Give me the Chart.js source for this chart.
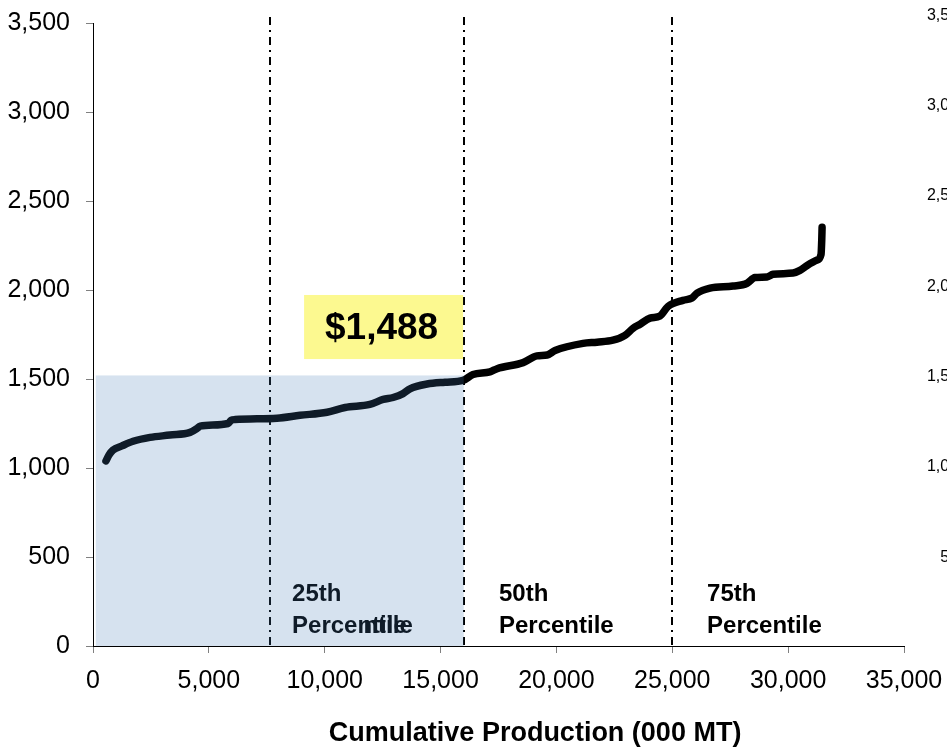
<!DOCTYPE html>
<html lang="en">
<head>
<meta charset="UTF-8"/>
<title>Cost curve</title>
<script src="https://cdn.jsdelivr.net/npm/chart.js@4.4.0/dist/chart.umd.min.js"></script>
<style>
  html, body { margin: 0; padding: 0; overflow: hidden; background: #fff; }
  #wrap { width: 967px; height: 747px; }
</style>
</head>
<body>
<div id="wrap"><canvas id="chart"></canvas></div>
<script>
// cumulative production (000 MT) and cost
const prodX = [560, 690, 860, 1250, 1730, 2460, 3320, 4190, 4490, 4620, 5830, 5960, 6130, 7940, 8930,
  10100, 10880, 11950, 12520, 12950, 13380, 13680, 14420, 15190, 15970, 16400, 17130, 17440, 18560,
  19160, 19600, 19940, 21150, 21750, 22440, 22960, 23310, 23610, 24040, 24470, 24820, 25460, 25850,
  26070, 26630, 27620, 28230, 28570, 29090, 29350, 30210, 30510, 30820, 31250, 31420, 31450, 31465];
const costY = [1040, 1073, 1100, 1124, 1150, 1172, 1185, 1200, 1222, 1235, 1250, 1268, 1272, 1280, 1296,
  1313, 1340, 1357, 1385, 1396, 1418, 1445, 1472, 1482, 1492, 1525, 1540, 1558, 1592,
  1630, 1635, 1660, 1700, 1707, 1718, 1745, 1785, 1808, 1842, 1854, 1908, 1942, 1955,
  1982, 2010, 2022, 2038, 2070, 2073, 2088, 2095, 2110, 2138, 2168, 2200, 2280, 2352];

const xTicks = [0, 5000, 10000, 15000, 20000, 25000, 30000, 35000];
const yTicks = [0, 500, 1000, 1500, 2000, 2500, 3000, 3500];
const y2Ticks = [500, 1000, 1500, 2000, 2500, 3000, 3500];

const percentileLines = [7650, 16000, 25000];
const percentileNames = ['25th', '50th', '75th'];
const medianCost = '$1,488';
const shadeTop = 1520;

const fmt = v => v.toLocaleString('en-US');
// keep the tick labels from pushing the plot area around
const noEdgePad = s => { s.paddingTop = 0; s.paddingBottom = 0; s.paddingLeft = 0; s.paddingRight = 0; };

const overlay = {
  id: 'overlay',
  afterDatasetsDraw(chart) {
    const { ctx, scales: { x, y }, chartArea: a } = chart;
    ctx.save();

    // percentile dash-dot lines
    ctx.strokeStyle = '#000';
    ctx.lineWidth = 2;
    ctx.setLineDash([8, 5, 2, 5]);
    percentileLines.forEach(v => {
      const px = Math.round(x.getPixelForValue(v));
      ctx.beginPath();
      ctx.moveTo(px, a.top - 6);
      ctx.lineTo(px, a.bottom);
      ctx.stroke();
    });
    ctx.setLineDash([]);

    // percentile labels
    ctx.font = 'bold 24px "Liberation Sans", Arial, sans-serif';
    ctx.fillStyle = '#000';
    ctx.textAlign = 'left';
    ctx.textBaseline = 'middle';
    const labelX = [8590, 17520, 26500];
    percentileNames.forEach((n, i) => {
      const px = x.getPixelForValue(labelX[i]);
      ctx.fillText(n, px, y.getPixelForValue(292));
      ctx.fillText('Percentile', px, y.getPixelForValue(112));
    });
    // the first one is printed twice in the original, slightly off
    const p0 = x.getPixelForValue(labelX[0]);
    ctx.fillText('ntile', p0 + ctx.measureText('Perce').width + 6, y.getPixelForValue(112));

    // yellow value box
    const bx0 = x.getPixelForValue(9110), bx1 = x.getPixelForValue(15970);
    const by0 = y.getPixelForValue(1972), by1 = y.getPixelForValue(1612);
    ctx.fillStyle = '#fcf990';
    ctx.fillRect(bx0, by0, bx1 - bx0, by1 - by0);
    ctx.fillStyle = '#000';
    ctx.font = 'bold 37px "Liberation Sans", Arial, sans-serif';
    ctx.textAlign = 'center';
    ctx.fillText(medianCost, bx0 + (bx1 - bx0) / 2 - 2, by0 + (by1 - by0) / 2 + 2);

    // shaded block up to the median, laid over the curve
    const sx0 = x.getPixelForValue(120), sx1 = x.getPixelForValue(16000);
    const sy0 = y.getPixelForValue(shadeTop), sy1 = y.getPixelForValue(0);
    ctx.fillStyle = 'rgba(68, 123, 182, 0.22)';
    ctx.fillRect(sx0, sy0, sx1 - sx0, sy1 - sy0);

    // axis title
    ctx.fillStyle = '#000';
    ctx.font = 'bold 27px "Liberation Sans", Arial, sans-serif';
    ctx.textAlign = 'center';
    ctx.fillText('Cumulative Production (000 MT)', x.getPixelForValue(19080), 734);

    ctx.restore();
  }
};

new Chart(document.getElementById('chart'), {
  type: 'line',
  data: {
    datasets: [{
      data: prodX.map((v, i) => ({ x: v, y: costY[i] })),
      borderColor: '#000',
      borderWidth: 7.5,
      borderCapStyle: 'round',
      borderJoinStyle: 'round',
      pointRadius: 0,
      cubicInterpolationMode: 'monotone',
      fill: false
    }]
  },
  options: {
    responsive: true,
    maintainAspectRatio: false,
    animation: false,
    layout: { padding: { top: 23, left: 0, right: 0, bottom: 0 } },
    plugins: { legend: { display: false }, tooltip: { enabled: false } },
    scales: {
      x: {
        type: 'linear',
        min: 0,
        max: 35000,
        afterBuildTicks: s => { s.ticks = xTicks.map(v => ({ value: v })); },
        afterFit: s => { s.height = 101; noEdgePad(s); },
        grid: { drawOnChartArea: false, tickLength: 7, color: '#808080' },
        border: { color: '#000', width: 1 },
        ticks: {
          autoSkip: false,
          maxRotation: 0,
          padding: 13,
          color: '#000',
          font: { family: '"Liberation Sans", Arial, sans-serif', size: 25 },
          callback: v => fmt(v)
        }
      },
      y: {
        min: 0,
        max: 3500,
        afterBuildTicks: s => { s.ticks = yTicks.map(v => ({ value: v })); },
        afterFit: s => { s.width = 93; noEdgePad(s); },
        grid: { drawOnChartArea: false, tickLength: 7, color: '#808080' },
        border: { color: '#000', width: 1 },
        ticks: {
          autoSkip: false,
          padding: 16,
          color: '#000',
          font: { family: '"Liberation Sans", Arial, sans-serif', size: 25 },
          callback: v => fmt(v)
        }
      },
      y2: {
        position: 'right',
        min: 9,
        max: 3458,
        afterBuildTicks: s => { s.ticks = y2Ticks.map(v => ({ value: v })); },
        afterFit: s => { s.width = 63; noEdgePad(s); },
        grid: { display: false, drawOnChartArea: false },
        border: { display: false },
        ticks: {
          autoSkip: false,
          crossAlign: 'far',
          color: '#000',
          font: { family: '"Liberation Sans", Arial, sans-serif', size: 16 },
          callback: v => fmt(v)
        }
      }
    }
  },
  plugins: [overlay]
});
</script>
</body>
</html>
